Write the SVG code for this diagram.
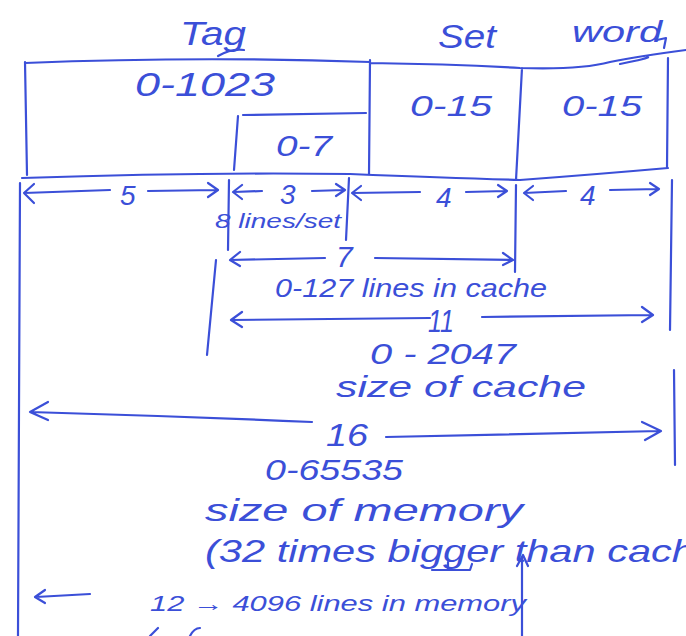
<svg xmlns="http://www.w3.org/2000/svg" width="686" height="636" viewBox="0 0 686 636">
<style>
.s{fill:none;stroke:#3b4fd8;stroke-width:2.2;stroke-linecap:round;stroke-linejoin:round}
.t{fill:#3b4fd8;font-family:"Liberation Sans",sans-serif;font-style:italic}
</style>
<rect width="686" height="636" fill="#ffffff"/>
<g id="labels-top">
<text class="t" x="180" y="45" font-size="34" textLength="66" lengthAdjust="spacingAndGlyphs">Tag</text>
<path class="s" d="M218 56 Q232 48 244 50"/>
<text class="t" x="438" y="48" font-size="34" textLength="58" lengthAdjust="spacingAndGlyphs">Set</text>
<text class="t" x="572" y="42" font-size="30" textLength="90" lengthAdjust="spacingAndGlyphs">word</text>
<path class="s" d="M657 40 L666 38 L664 48"/>
</g>
<g id="address-box">
<path class="s" d="M25 62 L27 175 M25 63 Q200 56 370 62 M370 60 L369 175 M370 63 Q450 64 520 68 Q580 70 610 62 Q640 56 686 50 M620 64 Q650 58 648 57 M522 68 L516 180 M668 58 L667 168 M22 178 Q200 172 350 174 Q450 178 520 180 Q600 174 668 168"/>
<path class="s" d="M243 115 L366 113 M238 116 L234 170"/>
<text class="t" x="135" y="96" font-size="34" textLength="140" lengthAdjust="spacingAndGlyphs">0-1023</text>
<text class="t" x="276" y="156" font-size="30" textLength="56" lengthAdjust="spacingAndGlyphs">0-7</text>
<text class="t" x="410" y="116" font-size="30" textLength="82" lengthAdjust="spacingAndGlyphs">0-15</text>
<text class="t" x="562" y="116" font-size="30" textLength="80" lengthAdjust="spacingAndGlyphs">0-15</text>
</g>
<g id="connectors">
<path class="s" d="M20 183 L18 636 M229 180 L228 250 M216 260 L207 355 M349 178 L346 240 M516 185 L515 272 M672 180 L670 330 M674 370 L675 465"/>
<path class="s" d="M24 193 L110 190 M34 184 L24 193 L34 203 M148 191 L216 190 M208 183 L218 190 L208 197"/>
<text class="t" x="120" y="205" font-size="28">5</text>
<path class="s" d="M234 192 L262 191 M242 185 L233 192 L242 199 M312 191 L344 190 M336 184 L345 190 L336 196"/>
<text class="t" x="280" y="204" font-size="28">3</text>
<path class="s" d="M352 193 L420 192 M361 186 L352 193 L361 200 M466 192 L506 191 M498 185 L507 191 L498 197"/>
<text class="t" x="436" y="207" font-size="28">4</text>
<path class="s" d="M524 193 L566 191 M533 186 L524 193 L533 200 M610 190 L658 189 M650 183 L659 189 L650 195"/>
<text class="t" x="580" y="205" font-size="28">4</text>
<text class="t" x="215" y="228" font-size="20" textLength="126" lengthAdjust="spacingAndGlyphs">8 lines/set</text>
<path class="s" d="M230 260 L325 258 M240 252 L230 260 L240 266 M375 258 L512 260 M503 253 L513 260 L503 265"/>
<text class="t" x="336" y="267" font-size="30">7</text>
<text class="t" x="275" y="297" font-size="26" textLength="272" lengthAdjust="spacingAndGlyphs">0-127  lines in cache</text>
<path class="s" d="M231 320 L430 318 M242 312 L231 320 L242 327 M482 317 L652 315 M642 307 L653 315 L642 322"/>
<text class="t" x="428" y="332" font-size="32" textLength="26" lengthAdjust="spacingAndGlyphs">11</text>
<text class="t" x="370" y="364" font-size="30" textLength="146" lengthAdjust="spacingAndGlyphs">0 - 2047</text>
<text class="t" x="336" y="397" font-size="30" textLength="250" lengthAdjust="spacingAndGlyphs">size  of  cache</text>
<path class="s" d="M30 412 Q170 416 312 422 M48 402 L30 412 L48 420 M386 437 L660 431 M642 422 L661 431 L645 440"/>
<text class="t" x="326" y="446" font-size="32" textLength="42" lengthAdjust="spacingAndGlyphs">16</text>
<text class="t" x="265" y="480" font-size="30" textLength="138" lengthAdjust="spacingAndGlyphs">0-65535</text>
<text class="t" x="205" y="521" font-size="32" textLength="318" lengthAdjust="spacingAndGlyphs">size of memory</text>
<text class="t" x="205" y="562" font-size="32" textLength="490" lengthAdjust="spacingAndGlyphs">(32 times bigger than cach</text>
<path class="s" d="M432 570 L448 570 L448 562 M448 570 L470 570 L472 564"/>
<path class="s" d="M522 636 L522 557 M517 566 L523 555 L528 566"/>
<path class="s" d="M36 597 L90 594 M45 590 L35 597 L45 603"/>
<text class="t" x="150" y="611" font-size="22" textLength="376" lengthAdjust="spacingAndGlyphs">12 → 4096 lines in memory</text>
<path class="s" d="M150 636 L158 628 M190 636 Q194 628 200 628"/>
</g>
</svg>
